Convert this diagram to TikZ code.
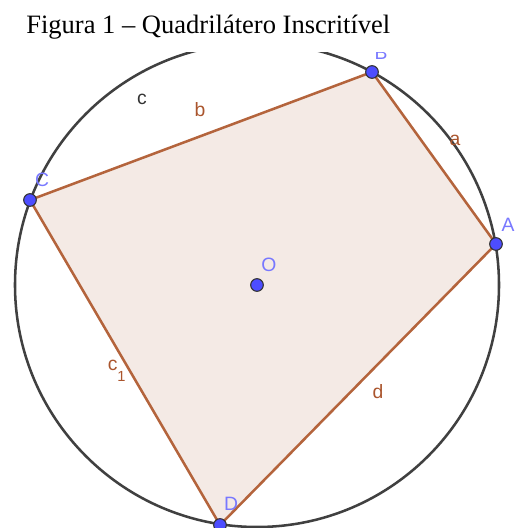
\documentclass[tikz,border=0pt]{standalone}
\usepackage{fontspec}
\setmainfont{Liberation Serif}
\newfontfamily\lblfont{Liberation Sans}
\definecolor{circ}{RGB}{64,64,64}
\definecolor{edge}{RGB}{180,100,60}
\definecolor{fillq}{RGB}{244,234,229}
\definecolor{pt}{RGB}{77,77,255}
\definecolor{ptl}{RGB}{120,120,255}
\definecolor{elbl}{RGB}{170,85,45}
\begin{document}
\begin{tikzpicture}[x=0.75pt,y=-0.75pt,
  ptstyle/.style={circle,fill=pt,draw=black!80,line width=0.8pt,inner sep=0pt,minimum size=9.5pt},
  ptlabel/.style={text=ptl,font=\lblfont\fontsize{14.5}{16}\selectfont,inner sep=0pt},
  edlabel/.style={text=elbl,font=\lblfont\fontsize{14.5}{16}\selectfont,inner sep=0pt},
  arclabel/.style={text=black!80,font=\lblfont\fontsize{14.5}{16}\selectfont,inner sep=0pt},
  side/.style={draw=edge,line width=1.9pt}]
\useasboundingbox (0,0) rectangle (520,528);
\node[anchor=base west,inner sep=0pt,font=\fontsize{19.9}{22}\selectfont] (title) at (26,34) {Figura 1 – Quadrilátero Inscritível};
\begin{scope}
\clip (0,53) rectangle (520,528);
\coordinate (Oc) at (257,285);
\coordinate (A) at (496,244);
\coordinate (B) at (372,72);
\coordinate (C) at (30,200);
\coordinate (D) at (220,525);
\fill[fillq] (A) -- (B) -- (C) -- (D) -- cycle;
\draw[circ,line width=1.9pt] (Oc) circle[radius=181.5pt];
\draw[side] (A) -- (B);
\draw[side] (B) -- (C);
\draw[side] (C) -- (D);
\draw[side] (D) -- (A);
\node[ptstyle] (pA) at (A) {};
\node[ptstyle] (pB) at (B) {};
\node[ptstyle] (pC) at (C) {};
\node[ptstyle] (pD) at (D) {};
\node[ptstyle] (pO) at (Oc) {};
\node[ptlabel] (lA) at (508,225) {A};
\node[ptlabel] (lB) at (381,53) {B};
\node[ptlabel] (lC) at (42,180) {C};
\node[ptlabel] (lD) at (231,504) {D};
\node[ptlabel] (lO) at (269,265) {O};
\node[edlabel] (la) at (455,140) {a};
\node[edlabel] (lb) at (200,110) {b};
\node[arclabel] (lc) at (142,99) {c};
\node[edlabel,anchor=base west] (lc1) at (107.5,370) {c\raisebox{-8.5pt}{\fontsize{11}{12}\selectfont 1}};
\node[edlabel] (ld) at (378,392) {d};
\end{scope}
\end{tikzpicture}
\end{document}
